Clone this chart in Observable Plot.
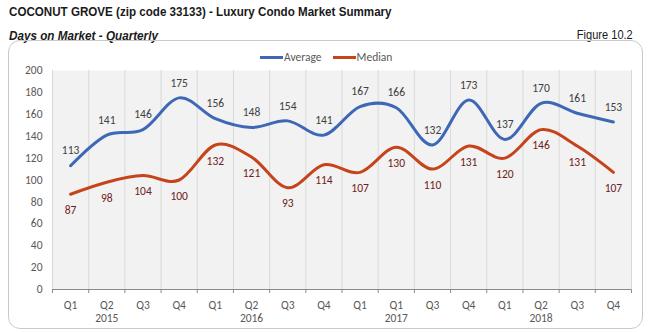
<!DOCTYPE html>
<html>
<head>
<meta charset="utf-8">
<script src="https://cdn.jsdelivr.net/npm/d3@7"></script>
<script src="https://cdn.jsdelivr.net/npm/@observablehq/plot@0.6"></script>
<style>
  html, body { margin: 0; padding: 0; background: #fff; }
  body { width: 649px; height: 333px; position: relative; overflow: hidden; }
  .narrow { font-family: "Liberation Sans Narrow", "Arial Narrow", "Liberation Sans", sans-serif; color: #1a1a1a; position: absolute; white-space: nowrap; }
  #title { left: 9px; top: 4px; font-size: 13.5px; font-weight: bold; transform: scaleX(0.86); transform-origin: left center; }
  #subtitle { left: 9px; top: 28px; font-size: 13px; font-weight: bold; font-style: italic; transform: scaleX(0.9); transform-origin: left center; }
  #figure { right: 16px; top: 27px; font-size: 13px; transform: scaleX(0.85); transform-origin: right center; }
  #box { position: absolute; left: 8px; top: 40px; width: 633px; height: 287px; border: 1.5px solid #c9c9c9; border-radius: 12px; }
  #legend { position: absolute; left: 260px; top: 50px; font-family: Carlito, Lato, "Open Sans", sans-serif; font-size: 11.5px; color: #595959; display: flex; align-items: center; }
  #legend .sw { display: inline-block; width: 23px; height: 3px; margin-right: 1px; }
  #legend .it { display: flex; align-items: center; margin-right: 11px; }
  #chart { position: absolute; left: 0; top: 60px; }
  #chart g[aria-label="x-axis tick"] path { stroke: #8a8a8a; }
</style>
</head>
<body>
<div id="title" class="narrow">COCONUT GROVE (zip code 33133) - Luxury Condo Market Summary</div>
<div id="subtitle" class="narrow">Days on Market - Quarterly</div>
<div id="figure" class="narrow">Figure 10.2</div>
<div id="box"></div>
<div id="legend"></div>
<div id="chart"></div>
<script>
const quarters = ["Q1","Q2","Q3","Q4","Q1","Q2","Q3","Q4","Q1","Q1","Q3","Q4","Q1","Q2","Q3","Q4"];
const yearLabels = ["2015","2016","2017","2018"];
const yearAtQuarter = [1, 5, 9, 13];
const average = [113,141,146,175,156,148,154,141,167,166,132,173,137,170,161,153];
const median  = [87,98,104,100,132,121,93,114,107,130,110,131,120,146,131,107];
const seriesNames = ["Average","Median"];
const seriesColors = ["#3e68b6","#c6441b"];
const labelColors = ["#404040","#6e2020"];
const yTicks = [0,20,40,60,80,100,120,140,160,180,200];

const rows = [];
quarters.forEach((q, i) => {
  rows.push({i, series: "Average", value: average[i]});
  rows.push({i, series: "Median", value: median[i]});
});
const boundaries = d3.range(quarters.length + 1).map(k => k - 0.5);
const years = yearLabels.map((y, k) => ({i: yearAtQuarter[k], label: y}));
const qs = quarters.map((q, i) => ({i, label: q}));

const font = 'Carlito, Lato, "Open Sans", sans-serif';

const chart = Plot.plot({
  width: 649,
  height: 270,
  marginTop: 10,
  marginBottom: 41,
  marginLeft: 52,
  marginRight: 18,
  style: {fontFamily: font, fontSize: "11.5px", color: "#595959", background: "transparent"},
  x: {domain: [-0.5, quarters.length - 0.5], ticks: boundaries, tickSize: 4, tickFormat: () => "", label: null},
  y: {domain: [0, 200], ticks: yTicks, tickSize: 0, tickPadding: 10, label: null},
  color: {domain: seriesNames, range: seriesColors},
  marks: [
    Plot.frame({fill: "#f2f2f2", stroke: "none"}),
    Plot.ruleX(boundaries, {x: d => d, stroke: "#d9d9d9", strokeWidth: 1}),
    Plot.ruleY([0], {stroke: "#8a8a8a", strokeWidth: 1}),
    Plot.line(rows, {x: "i", y: "value", z: "series", stroke: "series", curve: "cardinal", strokeWidth: 3}),
    Plot.text(rows.filter(d => d.series === "Average"), {x: "i", y: "value", text: d => String(d.value), dy: -15, fill: labelColors[0], fontSize: 11.5}),
    Plot.text(rows.filter(d => d.series === "Median"), {x: "i", y: "value", text: d => String(d.value), dy: 16, fill: labelColors[1], fontSize: 11.5}),
    Plot.text(qs, {x: "i", y: () => 0, text: "label", dy: 16, fill: "#595959", fontSize: 11.5}),
    Plot.text(years, {x: "i", y: () => 0, text: "label", dy: 29, fill: "#595959", fontSize: 11.5})
  ]
});
document.getElementById("chart").appendChild(chart);

const legend = document.getElementById("legend");
seriesNames.forEach((n, k) => {
  const it = document.createElement("span");
  it.className = "it";
  const sw = document.createElement("span");
  sw.className = "sw";
  sw.style.background = seriesColors[k];
  it.appendChild(sw);
  it.appendChild(document.createTextNode(n));
  legend.appendChild(it);
});
</script>
</body>
</html>
